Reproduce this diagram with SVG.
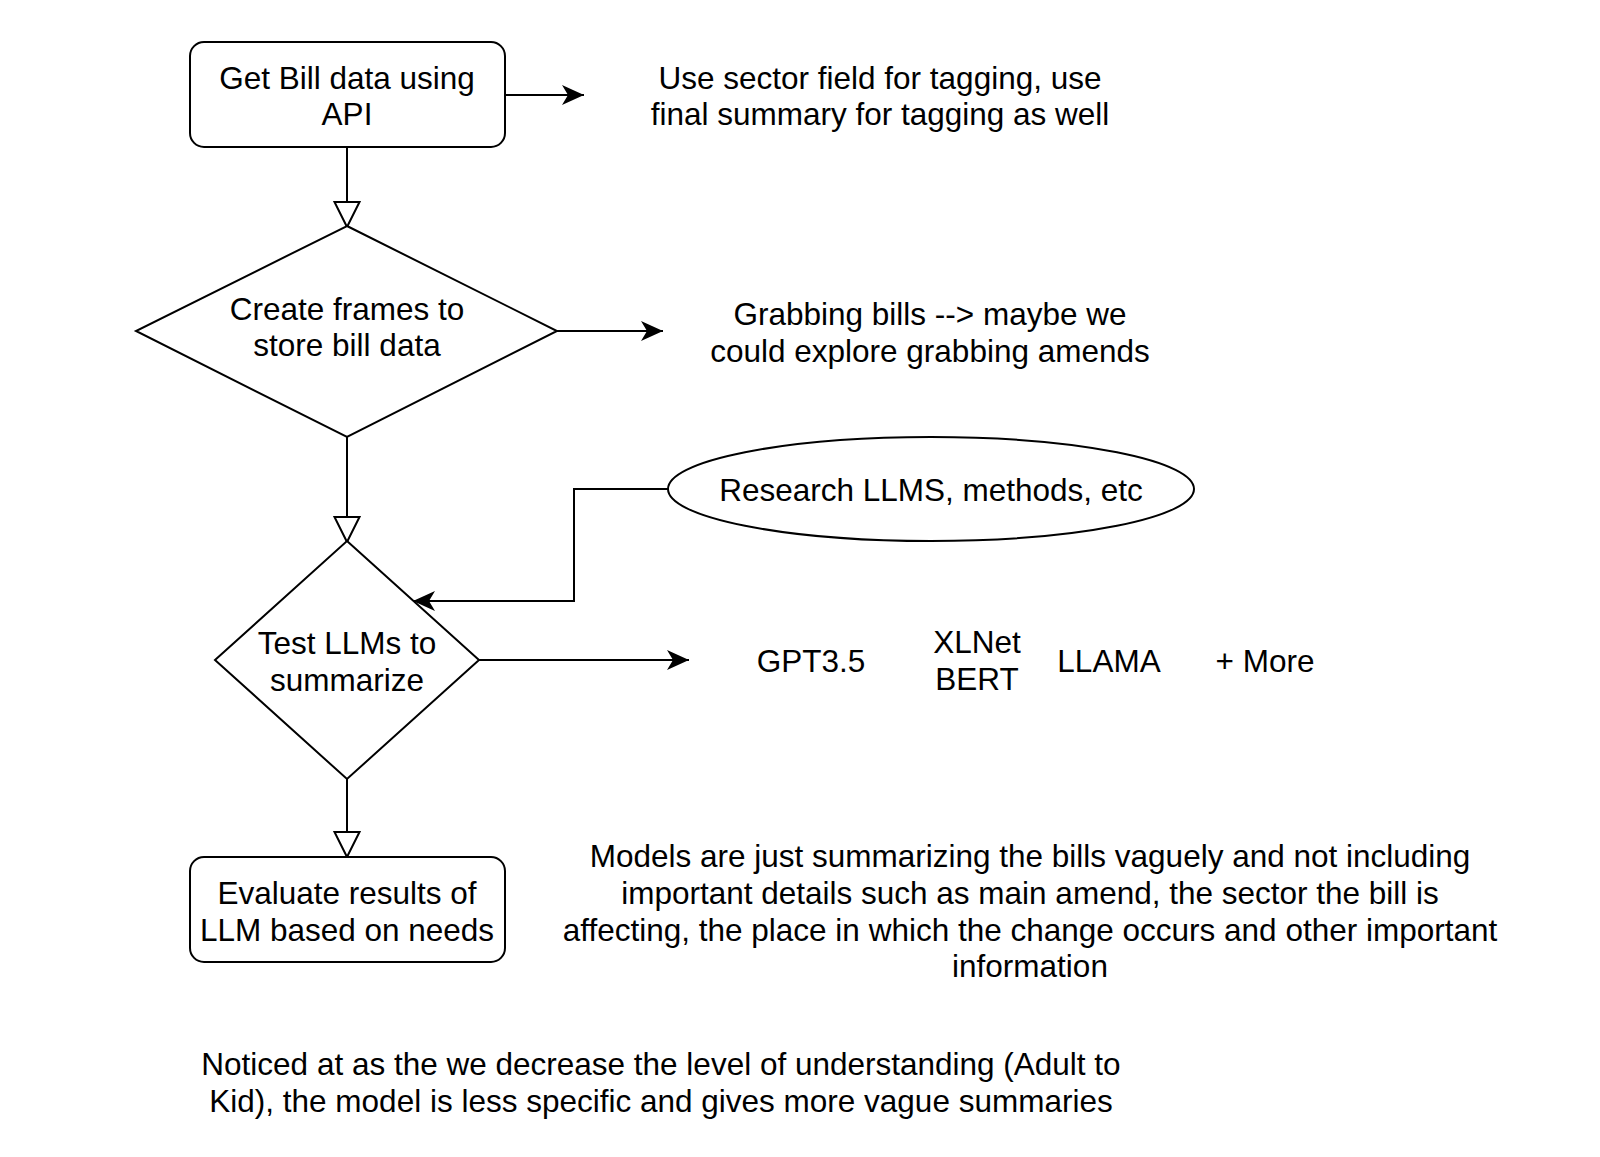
<svg xmlns="http://www.w3.org/2000/svg" width="1600" height="1157" viewBox="0 0 1600 1157">
<style>
.shape{fill:#fff;stroke:#000;stroke-width:2}
.edge{fill:none;stroke:#000;stroke-width:2}
text{font-family:"Liberation Sans",Arial,sans-serif;font-size:31.5px;fill:#000;text-anchor:middle}
</style>
<defs>
<marker id="classic" markerUnits="userSpaceOnUse" markerWidth="24" markerHeight="22" refX="22" refY="10" orient="auto" viewBox="0 0 24 22">
<path d="M0,0 L22,10 L0,20 L6,10 Z" fill="#000"/>
</marker>
<marker id="block" markerUnits="userSpaceOnUse" markerWidth="30" markerHeight="30" refX="26" refY="13.5" orient="auto" viewBox="0 0 30 30">
<path d="M1,1 L26,13.5 L1,26 Z" fill="#fff" stroke="#000" stroke-width="2"/>
</marker>
</defs>
<rect width="1600" height="1157" fill="#fff"/>
<g id="connectors">
<path class="edge" d="M505,95 L584,95" marker-end="url(#classic)"/>
<path class="edge" d="M347,147 L347,227" marker-end="url(#block)"/>
<path class="edge" d="M557,331 L663,331" marker-end="url(#classic)"/>
<path class="edge" d="M347,437 L347,542" marker-end="url(#block)"/>
<path class="edge" d="M668,489 L574,489 L574,601 L413,601" marker-end="url(#classic)"/>
<path class="edge" d="M479,660 L689,660" marker-end="url(#classic)"/>
<path class="edge" d="M347,779 L347,857" marker-end="url(#block)"/>
</g>
<g id="node-get-bill">
<rect class="shape" x="190" y="42" width="315" height="105" rx="14"/>
<text x="347" y="89">Get Bill data using</text>
<text x="347" y="125">API</text>
</g>
<g id="note-sector">
<text x="880" y="89">Use sector field for tagging, use</text>
<text x="880" y="125">final summary for tagging as well</text>
</g>
<g id="node-create-frames">
<polygon class="shape" points="347,226 557,331 347,437 136,331"/>
<text x="347" y="320">Create frames to</text>
<text x="347" y="356">store bill data</text>
</g>
<g id="note-grabbing">
<text x="930" y="325">Grabbing bills --&gt; maybe we</text>
<text x="930" y="362">could explore grabbing amends</text>
</g>
<g id="node-research">
<ellipse class="shape" cx="931" cy="489" rx="263" ry="52"/>
<text x="931" y="501">Research LLMS, methods, etc</text>
</g>
<g id="node-test-llms">
<polygon class="shape" points="347,541 479,660 347,779 215,660"/>
<text x="347" y="654">Test LLMs to</text>
<text x="347" y="691">summarize</text>
</g>
<g id="models-list">
<text x="811" y="672">GPT3.5</text>
<text x="977" y="653">XLNet</text>
<text x="977" y="690">BERT</text>
<text x="1109" y="672">LLAMA</text>
<text x="1265" y="672">+ More</text>
</g>
<g id="node-evaluate">
<rect class="shape" x="190" y="857" width="315" height="105" rx="14"/>
<text x="347" y="904">Evaluate results of</text>
<text x="347" y="941">LLM based on needs</text>
</g>
<g id="note-models">
<text x="1030" y="867">Models are just summarizing the bills vaguely and not including</text>
<text x="1030" y="904">important details such as main amend, the sector the bill is</text>
<text x="1030" y="941">affecting, the place in which the change occurs and other important</text>
<text x="1030" y="977">information</text>
</g>
<g id="note-noticed">
<text x="661" y="1075">Noticed at as the we decrease the level of understanding (Adult to</text>
<text x="661" y="1112">Kid), the model is less specific and gives more vague summaries</text>
</g>
</svg>
